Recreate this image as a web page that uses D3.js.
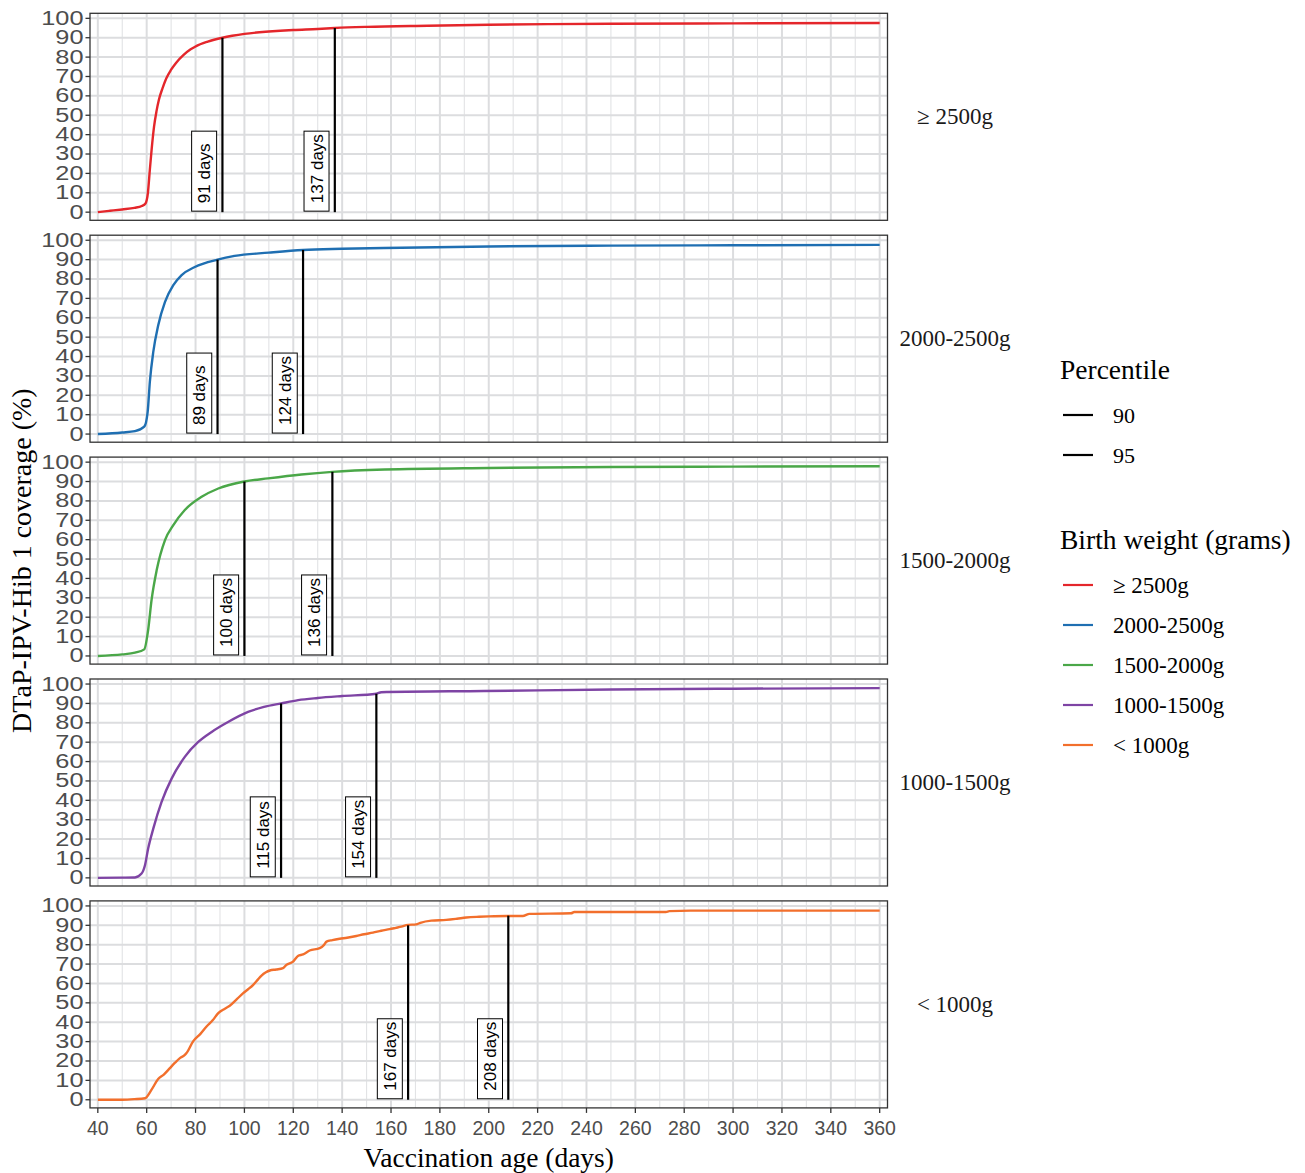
<!DOCTYPE html>
<html><head><meta charset="utf-8">
<script src="https://cdn.jsdelivr.net/npm/d3@7"></script>
<style>body{margin:0;background:#fff}svg{display:block}</style>
</head><body><svg id="chart" width="1305" height="1173"></svg>
<script>
// ---- data ----
const groups = ["≥ 2500g", "2000-2500g", "1500-2000g", "1000-1500g", "< 1000g"];
const groupColors = ["#e4262b", "#1f6fb2", "#4aa748", "#7e44a4", "#f26f2c"];

const days_ge2500 = [40,45,50,55,58,59.5,60.5,61.3,62,63,64,65,66.5,68,70,72,75,78,80,85,91,95,100,110,120,130,137,150,175,200,225,250,300,360];
const cov_ge2500  = [0,0.7,1.4,2.2,3.2,4.5,10,22,32,44,52,58,64,69,73.5,77,81,84,85.5,88,90,91,92,93.2,94,94.5,95,95.6,96.2,96.7,97,97.2,97.4,97.6];

const days_2000 = [40,50,55.2,59,60.4,61.3,62.7,64.7,67.5,70.9,74.3,79.7,89,96,110,124,140,157,200,250,300,360];
const cov_2000  = [0,0.8,1.5,3.8,11.5,27,42.4,56,68.2,76.8,82,86.2,90,91.9,93.6,95,95.6,96,96.8,97.2,97.4,97.6];

const days_1500 = [40,50,55.2,59,60.6,62,64.1,67.5,70.9,75.6,82.5,89.3,100,109.7,123.3,136,157.4,200,250,300,360];
const cov_1500  = [0,0.8,1.7,3.4,13.4,28.9,44.3,59.8,67.5,75.3,82.1,86.4,90,91.6,93.6,95,96.2,97,97.5,97.7,97.9];

const days_1000 = [40,50,55.2,57.9,59.3,60.6,62.7,66.1,70.2,75.6,81.1,86.6,93.3,101.5,108,115,122,130,140,154,156,158.7,198,250,300,360];
const cov_1000  = [0,0.1,0.2,2.2,6.5,15.1,25.4,39.2,51.2,62.4,70.1,75.3,80.4,85.6,88.2,90,91.7,92.8,93.8,95,95.8,95.9,96.4,97.2,97.6,97.9];

const days_lt1000 = [40,50,55,59.3,62,64.7,67,69.5,71.5,73.6,75.5,76.3,79,82,84.5,87,89.3,92,94,97,99.5,101.5,103.6,105.5,107,108.8,110.4,113,115.8,117.2,119.9,121.9,124,126.7,130.8,132.5,133.6,136,139,142,145.8,149,152.6,156,159.4,162,164.2,166.9,170.3,172,176.5,182.6,187,190.8,196,200,207.5,213.9,216.7,233.7,235,260,272.5,273.9,282.7,320,360];
const cov_lt1000  = [0,0,0.3,0.8,5.2,10.7,13,16.3,19,21.5,23,24.1,30.1,34,37.8,41,44.7,47,48.5,52,55,57,59.3,62,64.1,65.8,66.7,67.2,67.9,69.6,71.3,74.2,75,77,78.2,79.8,81.6,82.4,83.1,83.6,84.5,85.4,86.2,87.2,88,88.7,89.3,90.2,90.5,91.3,92.4,92.8,93.4,94,94.4,94.6,94.8,94.8,95.9,96.2,96.9,96.9,96.9,97.3,97.6,97.6,97.6];

const seriesDays = [days_ge2500, days_2000, days_1500, days_1000, days_lt1000];
const seriesCov  = [cov_ge2500, cov_2000, cov_1500, cov_1000, cov_lt1000];

const p90Days = [91, 89, 100, 115, 167];
const p95Days = [137, 124, 136, 154, 208];
const percentiles = [90, 95];

const xTickValues = [40,60,80,100,120,140,160,180,200,220,240,260,280,300,320,340,360];
const xMinorValues = [50,70,90,110,130,150,170,190,210,230,250,270,290,310,330,350];
const yTickValues = [0,10,20,30,40,50,60,70,80,90,100];

const xTitle = "Vaccination age (days)";
const yTitle = "DTaP-IPV-Hib 1 coverage (%)";
const legendPercentileTitle = "Percentile";
const legendGroupTitle = "Birth weight (grams)";

// ---- layout ----
const svg = d3.select("#chart");
const serif = "'Liberation Serif','Times New Roman',serif";
const sans = "'Liberation Sans',Arial,sans-serif";
const left = 90, right = 887.5;
const panelTop0 = 13.3, panelStep = 221.9, panelH = 207;

const x = d3.scaleLinear().domain([36.8, 363.2]).range([left, right]);

groups.forEach((g, i) => {
  const top = panelTop0 + i * panelStep;
  const y = d3.scaleLinear().domain([-4.2, 102.6]).range([top + panelH, top]);
  const p = svg.append("g");

  // grid
  p.selectAll("line.xminor").data(xMinorValues).join("line")
    .attr("x1", d => x(d)).attr("x2", d => x(d)).attr("y1", top).attr("y2", top + panelH)
    .attr("stroke", "#e2e3e5").attr("stroke-width", 1.1);
  p.selectAll("line.xmajor").data(xTickValues).join("line")
    .attr("x1", d => x(d)).attr("x2", d => x(d)).attr("y1", top).attr("y2", top + panelH)
    .attr("stroke", "#dcdddf").attr("stroke-width", 2);
  p.selectAll("line.ymajor").data(yTickValues).join("line")
    .attr("x1", left).attr("x2", right).attr("y1", d => y(d)).attr("y2", d => y(d))
    .attr("stroke", "#dcdddf").attr("stroke-width", 2);

  // curve
  const pts = seriesDays[i].map((d, k) => [d, seriesCov[i][k]]);
  p.append("path").datum(pts)
    .attr("d", d3.line().x(d => x(d[0])).y(d => y(d[1])).curve(d3.curveMonotoneX))
    .attr("fill", "none").attr("stroke", groupColors[i]).attr("stroke-width", 2.4);

  // percentile lines and labels
  [[p90Days[i], percentiles[0]], [p95Days[i], percentiles[1]]].forEach(([day, pct]) => {
    p.append("line").attr("x1", x(day)).attr("x2", x(day)).attr("y1", y(0)).attr("y2", y(pct))
      .attr("stroke", "#000").attr("stroke-width", 2.2);
    const bw = 25, bh = 80;
    const bx = x(day) - 5.8 - bw, by = y(0) - 1 - bh;
    p.append("rect").attr("x", bx).attr("y", by).attr("width", bw).attr("height", bh)
      .attr("fill", "#fff").attr("stroke", "#000").attr("stroke-width", 1);
    p.append("text").attr("transform", `translate(${bx + bw / 2 + 0.5},${by + bh - 8}) rotate(-90)`)
      .attr("font-family", sans).attr("font-size", 17).attr("dominant-baseline", "central")
      .attr("fill", "#000").text(day + " days");
  });

  // border
  p.append("rect").attr("x", left).attr("y", top).attr("width", right - left).attr("height", panelH)
    .attr("fill", "none").attr("stroke", "#333").attr("stroke-width", 1.3);

  // y axis ticks & labels
  p.selectAll("line.yt").data(yTickValues).join("line")
    .attr("x1", left - 4.5).attr("x2", left).attr("y1", d => y(d)).attr("y2", d => y(d))
    .attr("stroke", "#333").attr("stroke-width", 1.3);
  p.selectAll("text.yl").data(yTickValues).join("text")
    .attr("transform", d => `translate(${left - 6.5},${y(d)}) scale(1.3,1)`)
    .attr("text-anchor", "end").attr("dominant-baseline", "central")
    .attr("font-family", sans).attr("font-size", 19.5).attr("fill", "#4d4d4d").text(d => d);

  // strip label
  p.append("text").attr("x", 955).attr("y", top + panelH / 2)
    .attr("text-anchor", "middle").attr("dominant-baseline", "central")
    .attr("font-family", serif).attr("font-size", 23).attr("fill", "#1a1a1a").text(g);
});

// x axis
const bottom = panelTop0 + 4 * panelStep + panelH;
const xa = svg.append("g");
xa.selectAll("line").data(xTickValues).join("line")
  .attr("x1", d => x(d)).attr("x2", d => x(d)).attr("y1", bottom).attr("y2", bottom + 5)
  .attr("stroke", "#333").attr("stroke-width", 1.3);
xa.selectAll("text").data(xTickValues).join("text")
  .attr("x", d => x(d)).attr("y", bottom + 20).attr("text-anchor", "middle").attr("dominant-baseline", "central")
  .attr("font-family", sans).attr("font-size", 19.5).attr("fill", "#4d4d4d").text(d => d);

svg.append("text").attr("x", (left + right) / 2).attr("y", 1167).attr("text-anchor", "middle")
  .attr("font-family", serif).attr("font-size", 27.5).attr("fill", "#000").text(xTitle);
svg.append("text").attr("transform", `translate(31,${(panelTop0 + bottom) / 2}) rotate(-90)`)
  .attr("text-anchor", "middle").attr("font-family", serif).attr("font-size", 28).attr("fill", "#000").text(yTitle);

// legends
const lg = svg.append("g");
lg.append("text").attr("x", 1060).attr("y", 379).attr("font-family", serif).attr("font-size", 27.5).text(legendPercentileTitle);
percentiles.forEach((pc, k) => {
  const cy = 415 + k * 40;
  lg.append("line").attr("x1", 1063).attr("x2", 1093).attr("y1", cy).attr("y2", cy).attr("stroke", "#000").attr("stroke-width", 2.2);
  lg.append("text").attr("x", 1113).attr("y", cy).attr("dominant-baseline", "central")
    .attr("font-family", serif).attr("font-size", 22).text(pc);
});
lg.append("text").attr("x", 1060).attr("y", 549).attr("font-family", serif).attr("font-size", 27.5).text(legendGroupTitle);
groups.forEach((g, k) => {
  const cy = 585 + k * 40;
  lg.append("line").attr("x1", 1063).attr("x2", 1093).attr("y1", cy).attr("y2", cy).attr("stroke", groupColors[k]).attr("stroke-width", 2.2);
  lg.append("text").attr("x", 1113).attr("y", cy).attr("dominant-baseline", "central")
    .attr("font-family", serif).attr("font-size", 23).text(g);
});
</script></body></html>
